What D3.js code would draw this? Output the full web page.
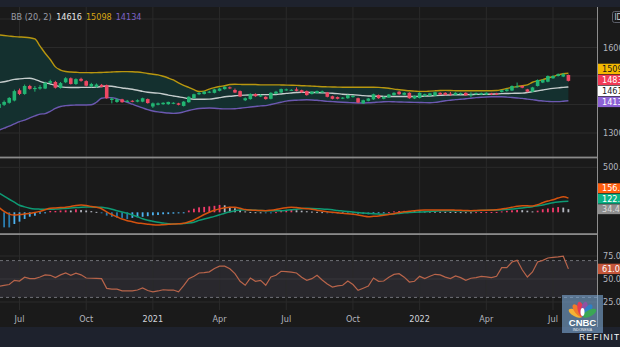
<!DOCTYPE html>
<html><head><meta charset="utf-8">
<script src="https://cdn.jsdelivr.net/npm/d3@7"></script>
<style>
html,body{margin:0;padding:0;background:#1a1a1a;overflow:hidden;}
svg{display:block;}
text{font-family:'Liberation Sans Narrow','DejaVu Sans Condensed','Liberation Sans',Roboto,sans-serif;}
</style></head>
<body><svg id="c" width="620" height="347"></svg>
<script>
// ---------- DATA (weekly bars, USD/IDR, Jun 2020 - Jul 2022) ----------
const firstWeek = "2020-06-08", lastWeek = "2022-07-25";
const open = [
13880,13990,14060,14140,14500,14370,14650,14540,14560,14560,
14760,14790,14580,14780,14920,14720,14900,14820,14630,14620,
14690,14680,14160,14090,14180,14100,14130,14100,14100,14190,
13930,13990,14010,14010,14030,14040,13950,14080,14220,14360,
14370,14420,14410,14480,14540,14600,14510,14470,14150,14190,
14370,14280,14270,14200,14380,14420,14500,14500,14530,14500,
14470,14370,14400,14420,14420,14290,14260,14210,14220,14260,
14220,14040,14130,14180,14330,14200,14250,14330,14450,14340,
14410,14210,14230,14300,14310,14310,14410,14410,14380,14340,
14360,14410,14330,14360,14350,14350,14390,14390,14440,14470,
14490,14610,14650,14530,14450,14650,14770,14800,14920,15000,
14980,15035];
const high = [
14060,14140,14260,14520,14560,14700,14690,14650,14680,14800,
14870,14830,14790,14960,14950,14920,14940,14850,14760,14740,
14720,14700,14240,14210,14200,14160,14150,14180,14240,14210,
14070,14070,14080,14100,14080,14060,14120,14290,14380,14440,
14470,14480,14550,14590,14640,14630,14560,14490,14250,14390,
14390,14360,14290,14430,14480,14560,14560,14540,14600,14520,
14490,14470,14490,14490,14440,14310,14280,14260,14350,14330,
14240,14170,14230,14380,14350,14290,14370,14430,14470,14430,
14430,14320,14430,14380,14410,14450,14430,14430,14440,14430,
14420,14430,14430,14420,14420,14430,14410,14410,14520,14550,
14670,14770,14670,14550,14620,14880,14890,15020,15030,15090,
15110,15050];
const low = [
13840,13950,14030,14110,14330,14340,14520,14450,14520,14540,
14730,14560,14560,14750,14700,14690,14800,14630,14600,14590,
14600,14200,14040,14060,14060,14080,14080,14080,14080,14030,
13880,13970,13990,13990,14010,13970,13930,14060,14200,14330,
14350,14400,14390,14460,14520,14540,14400,14260,14120,14170,
14270,14260,14170,14180,14360,14400,14480,14480,14460,14410,
14310,14350,14380,14400,14250,14180,14180,14190,14200,14240,
14050,14020,14110,14160,14200,14180,14230,14310,14340,14320,
14200,14190,14210,14280,14290,14290,14330,14320,14300,14320,
14340,14300,14250,14340,14330,14330,14330,14330,14420,14450,
14470,14590,14570,14430,14430,14630,14750,14780,14900,14980,
14960,14810];
const close = [
14020,14090,14230,14470,14370,14650,14550,14580,14610,14760,
14820,14590,14750,14920,14720,14890,14830,14660,14720,14700,
14620,14220,14210,14180,14080,14130,14100,14150,14220,14050,
14040,14040,14060,14090,14060,13990,14100,14270,14360,14410,
14450,14450,14530,14560,14620,14570,14420,14280,14220,14370,
14290,14330,14190,14410,14450,14540,14530,14515,14480,14430,
14330,14450,14470,14460,14270,14200,14200,14240,14330,14300,
14070,14150,14210,14360,14220,14270,14350,14410,14360,14410,
14220,14300,14410,14360,14390,14430,14350,14340,14360,14410,
14400,14320,14350,14400,14400,14410,14350,14350,14500,14530,
14650,14640,14590,14450,14600,14860,14860,15000,15000,15060,
15060,14830];
// Bollinger Bands (20, 2)
const bbUpper = [
16440,16420,16400,16380,16370,16360,16340,16300,16050,15800,
15580,15320,15210,15160,15140,15130,15120,15120,15115,15120,
15125,15130,15140,15150,15155,15155,15150,15140,15120,15090,
15060,15040,14990,14930,14860,14760,14670,14600,14520,14460,
14470,14540,14590,14630,14660,14700,14710,14705,14700,14700,
14700,14690,14690,14690,14690,14685,14680,14675,14670,14660,
14655,14645,14635,14625,14620,14615,14610,14605,14605,14605,
14605,14605,14605,14605,14600,14590,14570,14540,14520,14500,
14480,14470,14460,14460,14470,14480,14490,14495,14490,14485,
14480,14480,14480,14485,14485,14485,14485,14490,14520,14560,
14600,14630,14660,14690,14780,14830,14870,14930,14980,15040,
15080,15098];
const bbBasis = [
14770,14800,14840,14880,14900,14915,14920,14880,14810,14760,
14720,14670,14620,14600,14595,14595,14600,14600,14600,14610,
14630,14650,14640,14610,14580,14560,14535,14500,14460,14430,
14410,14400,14370,14330,14300,14270,14240,14200,14185,14185,
14185,14190,14210,14240,14270,14290,14305,14320,14330,14335,
14340,14345,14345,14345,14350,14370,14390,14405,14420,14430,
14425,14420,14420,14410,14400,14395,14380,14360,14350,14340,
14330,14310,14300,14290,14290,14285,14280,14280,14280,14280,
14280,14280,14285,14295,14300,14310,14320,14330,14335,14340,
14340,14345,14350,14355,14355,14358,14360,14370,14380,14385,
14390,14395,14400,14420,14450,14480,14510,14540,14565,14585,
14600,14616];
const bbLower = [
13100,13170,13240,13320,13400,13450,13530,13600,13660,13680,
13760,13860,13930,13960,13975,13980,13985,13985,13990,14080,
14220,14240,14240,14200,14140,14080,14010,13940,13880,13820,
13770,13740,13720,13700,13690,13700,13740,13790,13830,13860,
13870,13875,13870,13855,13845,13845,13850,13870,13890,13910,
13930,13950,13960,14000,14040,14080,14120,14140,14150,14160,
14165,14160,14150,14130,14110,14100,14090,14080,14070,14060,
14055,14055,14060,14070,14085,14095,14100,14095,14090,14085,
14080,14075,14070,14065,14063,14075,14100,14130,14150,14170,
14185,14200,14220,14240,14255,14265,14270,14272,14270,14260,
14245,14230,14215,14190,14170,14140,14125,14110,14100,14100,
14115,14134];
// MACD
const macdLine = [
55,10,-20,-30,-25,-20,-12,-3,10,28,
44,48,52,56,65,75,80,75,65,55,
40,5,-25,-50,-75,-93,-105,-118,-125,-132,
-138,-141,-138,-134,-130,-127,-122,-105,-85,-55,
-25,0,22,38,50,56,56,45,30,25,
22,20,18,24,32,42,50,56,52,46,
40,34,24,14,7,0,-6,-11,-16,-22,
-30,-40,-49,-45,-40,-32,-24,-15,-3,7,
12,18,22,25,26,26,26,26,26,24,
22,20,18,20,22,24,26,28,36,46,
56,67,73,72,70,85,107,125,140,158,
172,156.9];
const signalLine = [
215,180,145,112,78,60,46,38,35,33,
33,36,40,43,47,52,56,58,58,57,
56,48,35,18,3,-11,-30,-50,-72,-88,
-100,-111,-119,-126,-130,-128,-125,-120,-110,-90,
-75,-60,-45,-28,-10,5,18,26,27,25,
22,19,18,18,18,18,22,28,35,40,
44,43,40,36,33,28,20,14,8,3,
-3,-9,-13,-17,-20,-22,-22,-18,-12,-6,
-3,0,3,6,9,13,16,18,18,18,
18,18,18,18,20,22,24,25,27,32,
36,42,48,55,62,72,82,95,107,115,
120,122.5];
const macdHist = [
-160,-167,-168,-130,-104,-74,-49,-38,-15,-5,
15,15,20,22,20,33,25,20,13,5,
-3,-37,-50,-60,-62,-76,-62,-55,-50,-43,
-33,-30,-22,-20,-15,-12,-5,20,40,55,
60,66,72,82,78,60,45,25,10,4,
1,0,-8,-12,2,18,25,28,22,18,
12,8,5,2,-8,-10,-8,-8,-10,-14,
-18,-20,-22,-14,-10,-6,2,10,14,16,
13,11,10,9,8,7,6,5,4,3,
2,1,0,2,3,3,3,4,10,16,
22,26,24,18,10,18,34,42,50,58,
52,34.4];
// RSI (14)
const rsi = [
42,43,44,48.5,47.8,52,50.4,50.4,52.2,54.5,
54,51.5,54.5,56.5,54,56.3,54.5,51.1,50.8,50.6,
50.4,39.8,39.1,39,37.2,37.2,37.2,38,40.2,37.5,
36.1,37,38.3,38,38,36.1,42.7,50.4,53,56.5,
57,57.8,61.5,64,64,61.2,55.8,47.5,43.2,51,
47.5,48.6,43.2,52.2,54,58.4,58,57.5,56.5,52,
48.6,50.4,54,49,44.5,41.3,42.5,43.2,47.8,44,
37.7,40,42.4,51.1,47.5,47.8,52,55,55.8,52,
46.7,47.5,52.9,50.4,53,55.1,54.5,52,50.4,53.3,
51.5,48.6,50.8,51.5,52.9,52.3,51.5,52.9,62.3,62.3,
68.5,70.3,60,52.2,57.6,68.5,70.3,72.8,73.5,74,
74.7,61];
const tickDates = ["2020-07-06","2020-10-05","2021-01-04","2021-04-05","2021-07-05","2021-10-04","2022-01-03","2022-04-04","2022-07-04"];
const tickLabels = ["Jul","Oct","2021","Apr","Jul","Oct","2022","Apr","Jul"];
const priceGrid = [17000,16000,15000,14000,13000];
const priceLabels = [16000,13000];
const macdTicks = [500];
const rsiTicks = [75,50,25];
const rsiBand = [70,30];

// ---------- SETUP ----------
const parse = d3.timeParse("%Y-%m-%d");
const dates = d3.timeMonday.range(parse(firstWeek), d3.timeDay.offset(parse(lastWeek),1));
const bars = dates.map((d,i)=>({date:d,o:open[i],h:high[i],l:low[i],c:close[i],
  up:bbUpper[i],mid:bbBasis[i],lo:bbLower[i],macd:macdLine[i],sig:signalLine[i],hist:macdHist[i],rsi:rsi[i]}));

const plotR = 597;
const x = d3.scaleTime().domain([parse("2020-07-06"), parse(lastWeek)]).range([19.5, 568.4]);
const yP = d3.scaleLinear().domain([13000,16000]).range([133,47.5]);
const yM = d3.scaleLinear().domain([0,500]).range([212.3,167.3]);
const yR = d3.scaleLinear().domain([25,75]).range([302,256]);

const svg = d3.select("#c");
const BG="#1a1a1a", NAVY="#1e222d", GRID="#2a2a2a", AX="#b2b5be";
svg.append("rect").attr("width",620).attr("height",347).attr("fill",BG);
svg.append("rect").attr("width",620).attr("height",7).attr("fill",NAVY);

const defs = svg.append("defs");
function clip(id,y0,y1){defs.append("clipPath").attr("id",id).append("rect").attr("x",0).attr("y",y0).attr("width",plotR).attr("height",y1-y0);}
clip("cMain",7,157); clip("cMacd",158,234); clip("cRsi",235,310);

// RSI band background
svg.append("rect").attr("x",0).attr("width",plotR).attr("y",yR(rsiBand[0])).attr("height",yR(rsiBand[1])-yR(rsiBand[0])).attr("fill","#29282d");

// vertical grid
const tds = tickDates.map(parse);
svg.append("g").selectAll("line").data(tds).join("line")
  .attr("x1",d=>x(d)).attr("x2",d=>x(d)).attr("y1",7).attr("y2",310)
  .attr("stroke",GRID).attr("stroke-width",1);
// horizontal grids
svg.append("g").selectAll("line").data(priceGrid).join("line")
  .attr("x1",0).attr("x2",plotR).attr("y1",d=>yP(d)).attr("y2",d=>yP(d))
  .attr("stroke",GRID).attr("clip-path","url(#cMain)");
svg.append("g").selectAll("line").data(macdTicks).join("line")
  .attr("x1",0).attr("x2",plotR).attr("y1",d=>yM(d)).attr("y2",d=>yM(d)).attr("stroke",GRID);
svg.append("g").selectAll("line").data(rsiTicks).join("line")
  .attr("x1",0).attr("x2",plotR).attr("y1",d=>yR(d)).attr("y2",d=>yR(d))
  .attr("stroke",d=>d===50?"#38373d":GRID);
svg.append("g").selectAll("line").data(rsiBand).join("line")
  .attr("x1",0).attr("x2",plotR).attr("y1",d=>yR(d)).attr("y2",d=>yR(d))
  .attr("stroke","#6f7077").attr("stroke-dasharray","3,3");

// ---------- MAIN PANE ----------
const gMain = svg.append("g").attr("clip-path","url(#cMain)");
gMain.append("path").datum(bars)
  .attr("d",d3.area().x(d=>x(d.date)).y0(d=>yP(d.lo)).y1(d=>yP(d.up)).curve(d3.curveMonotoneX))
  .attr("fill","#14302f");
const lineP = k=>d3.line().x(d=>x(d.date)).y(d=>yP(d[k])).curve(d3.curveMonotoneX);
gMain.append("path").datum(bars).attr("d",lineP("up")).attr("fill","none").attr("stroke","#b8960f").attr("stroke-width",1.4);
gMain.append("path").datum(bars).attr("d",lineP("lo")).attr("fill","none").attr("stroke","#6c58b0").attr("stroke-width",1.4);
gMain.append("path").datum(bars).attr("d",lineP("mid")).attr("fill","none").attr("stroke","#c5cccc").attr("stroke-width",1.4);
const UPC="#22b573", DNC="#ee4863";
const cg = gMain.append("g").selectAll("g").data(bars).join("g");
cg.append("line").attr("x1",d=>x(d.date)).attr("x2",d=>x(d.date))
  .attr("y1",d=>yP(d.h)).attr("y2",d=>yP(d.l)).attr("stroke",d=>d.c>=d.o?UPC:DNC).attr("stroke-width",1);
cg.append("rect").attr("x",d=>x(d.date)-1.8).attr("width",3.6)
  .attr("y",d=>yP(Math.max(d.o,d.c))).attr("height",d=>Math.max(1,yP(Math.min(d.o,d.c))-yP(Math.max(d.o,d.c))))
  .attr("fill",d=>d.c>=d.o?UPC:DNC);

// ---------- MACD PANE ----------
const gM = svg.append("g").attr("clip-path","url(#cMacd)");
gM.append("g").selectAll("rect").data(bars).join("rect")
  .attr("x",d=>x(d.date)-0.9).attr("width",1.8)
  .attr("y",d=>Math.min(yM(0),yM(d.hist))).attr("height",d=>Math.max(1,Math.abs(yM(d.hist)-yM(0))))
  .attr("fill",(d,i)=>{const p=i>0?bars[i-1].hist:Infinity;
     if(d.hist>=0) return d.hist>=p?"#f23b6b":"#b2b5be";
     return d.hist<p?"#2a7db0":"#4db2f0";});
const lineM = k=>d3.line().x(d=>x(d.date)).y(d=>yM(d[k])).curve(d3.curveMonotoneX);
gM.append("path").datum(bars).attr("d",lineM("sig")).attr("fill","none").attr("stroke","#0e9a74").attr("stroke-width",1.5);
gM.append("path").datum(bars).attr("d",lineM("macd")).attr("fill","none").attr("stroke","#d4520f").attr("stroke-width",1.5);

// ---------- RSI PANE ----------
const gR = svg.append("g").attr("clip-path","url(#cRsi)");
gR.append("path").datum(bars).attr("d",d3.line().x(d=>x(d.date)).y(d=>yR(d.rsi)))
  .attr("fill","none").attr("stroke","#b8644a").attr("stroke-width",1.2);

// separators
svg.append("rect").attr("x",0).attr("y",156.6).attr("width",plotR).attr("height",1.8).attr("fill","#8a8a8a");
svg.append("rect").attr("x",0).attr("y",233.2).attr("width",plotR).attr("height",1.8).attr("fill","#8a8a8a");
svg.append("line").attr("x1",plotR+0.5).attr("x2",plotR+0.5).attr("y1",7).attr("y2",327).attr("stroke","#8d8d8d");

// ---------- AXES ----------
const fs = 9;
svg.append("g").selectAll("text").data(tds).join("text")
  .attr("x",d=>x(d)).attr("y",322).attr("text-anchor","middle")
  .attr("font-size",fs).attr("fill",(d,i)=>/^\d/.test(tickLabels[i])?"#d1d4dc":AX)
  .text((d,i)=>tickLabels[i]);
svg.append("g").selectAll("text").data(priceLabels).join("text")
  .attr("x",603).attr("y",d=>yP(d)).attr("dy","0.35em").attr("font-size",fs).attr("fill",AX).text(d=>d3.format("d")(d));
svg.append("g").selectAll("text").data(macdTicks).join("text")
  .attr("x",603).attr("y",d=>yM(d)).attr("dy","0.35em").attr("font-size",fs).attr("fill",AX).text(d=>d3.format(".2f")(d));
svg.append("g").selectAll("text").data(rsiTicks).join("text")
  .attr("x",603).attr("y",d=>yR(d)).attr("dy","0.35em").attr("font-size",fs).attr("fill",AX).text(d=>d3.format(".2f")(d));

// badges
function badges(items,mode,h){
  const s = items.slice().sort((a,b)=>a.y-b.y), pos=[];
  if(mode==="center"){
    s.forEach((it,i)=>{pos[i]= i===0?it.y:Math.max(it.y,pos[i-1]+h);});
    const sh = d3.mean(s,d=>d.y)-d3.mean(pos); s.forEach((it,i)=>it.py=pos[i]+sh);
  } else {
    for(let i=s.length-1;i>=0;i--){pos[i]= i===s.length-1?s[i].y:Math.min(s[i].y,pos[i+1]-h);}
    s.forEach((it,i)=>it.py=pos[i]);
  }
  const g = svg.append("g").selectAll("g").data(s).join("g");
  g.append("rect").attr("x",plotR+1).attr("y",d=>d.py-h/2+0.3).attr("width",30).attr("height",h-0.6).attr("fill",d=>d.bg);
  g.append("text").attr("x",602).attr("y",d=>d.py).attr("dy","0.35em").attr("font-size",fs).attr("fill",d=>d.fg).text(d=>d.t);
}
const L = bars[bars.length-1];
badges([
  {y:yP(L.up),bg:"#f5b800",fg:"#1a1a1a",t:d3.format("d")(L.up)},
  {y:yP(L.c),bg:"#f23a55",fg:"#ffffff",t:d3.format("d")(L.c)},
  {y:yP(L.mid),bg:"#ffffff",fg:"#1a1a1a",t:d3.format("d")(L.mid)},
  {y:yP(L.lo),bg:"#8d62d6",fg:"#ffffff",t:d3.format("d")(L.lo)}
],"center",11);
badges([
  {y:yM(L.macd),bg:"#ff5e0e",fg:"#ffffff",t:d3.format(".2f")(L.macd)},
  {y:yM(L.sig),bg:"#0ab386",fg:"#ffffff",t:d3.format(".2f")(L.sig)},
  {y:yM(L.hist),bg:"#8f8f8f",fg:"#dcdcdc",t:d3.format(".2f")(L.hist)}
],"bottom",10.5);
badges([{y:yR(L.rsi),bg:"#c4563a",fg:"#ffffff",t:d3.format(".2f")(L.rsi)}],"bottom",11);

// currency tag
svg.append("rect").attr("x",612.5).attr("y",11.5).attr("width",16).attr("height",11).attr("rx",2)
  .attr("fill",BG).attr("stroke","#5d606b");
svg.append("text").attr("x",614.5).attr("y",17).attr("dy","0.35em").attr("font-size",8).attr("fill","#d1d4dc").text("IDR");

// legend
const leg = svg.append("text").attr("x",11).attr("y",19.5).attr("font-size",fs);
leg.append("tspan").attr("fill","#9a9da6").text("BB (20, 2) ");
leg.append("tspan").attr("fill","#e6e6e6").attr("dx",2).text(d3.format("d")(L.mid));
leg.append("tspan").attr("fill","#d9a514").attr("dx",4).text(d3.format("d")(L.up));
leg.append("tspan").attr("fill","#7d63c6").attr("dx",4).text(d3.format("d")(L.lo));

// bottom bar
svg.append("rect").attr("y",327).attr("width",620).attr("height",20).attr("fill",NAVY);
svg.append("text").attr("x",579).attr("y",340).attr("font-size",8.5).attr("letter-spacing",1.2)
  .attr("fill","#ffffff").style("font-family","'Liberation Sans',Arial,sans-serif").text("REFINITIV");

// CNBC logo overlay
const lg = svg.append("g");
lg.append("rect").attr("x",562).attr("y",295).attr("width",41).attr("height",38).attr("fill","rgba(125,170,215,0.6)");
const feathers = ["#f5b335","#ef7a2a","#e23a55","#8e52a3","#2f80c4","#3aa655"];
lg.selectAll("ellipse").data(feathers).join("ellipse")
  .attr("cx",0).attr("cy",-8).attr("rx",3.2).attr("ry",7.5).attr("fill",d=>d)
  .attr("transform",(d,i)=>`translate(582.5,317) rotate(${-62+i*24.8})`);
lg.append("ellipse").attr("cx",582.5).attr("cy",312).attr("rx",2).attr("ry",4).attr("fill","#ffffff");
lg.append("text").attr("x",582.5).attr("y",326).attr("text-anchor","middle").attr("font-size",9.5)
  .attr("font-weight","bold").attr("fill","#ffffff").style("font-family","'Liberation Sans',Arial,sans-serif").text("CNBC");
lg.append("text").attr("x",582.5).attr("y",331).attr("text-anchor","middle").attr("font-size",3.5)
  .attr("fill","#eeeeee").style("font-family","'Liberation Sans',Arial,sans-serif").text("INDONESIA");
</script>
</body></html>
